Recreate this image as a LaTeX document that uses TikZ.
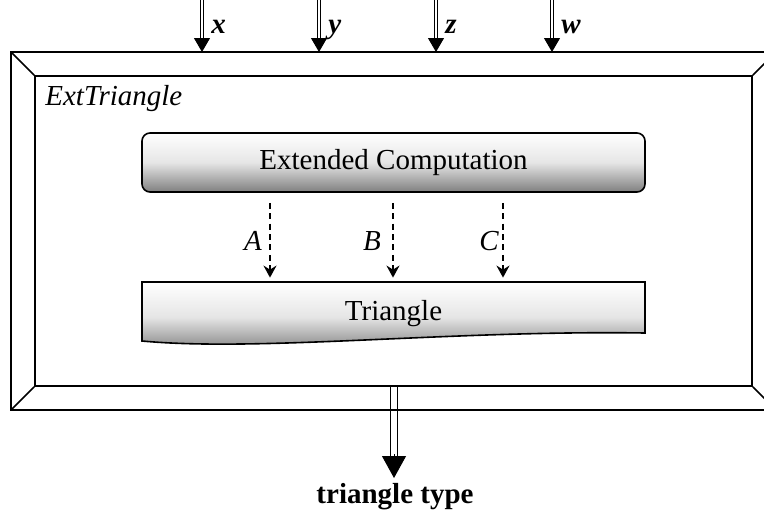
\documentclass[tikz,border=0pt]{standalone}
\usepackage{fontspec}
\setmainfont{Liberation Serif}
\usetikzlibrary{arrows.meta,calc}
\tikzset{
  frameline/.style={line width=0.85pt, line join=miter},
  lbl/.style={inner sep=0pt, font=\fontsize{14.5}{17}\selectfont},
  boxshade/.style={draw, line width=0.8pt, top color=white, bottom color=black!50, middle color=black!10},
  dasharrow/.style={line width=0.85pt, dash pattern=on 3pt off 2.2pt, -{Stealth[length=6pt,width=6.5pt,inset=2pt]}},
  shaftline/.style={line width=0.5pt},
  intip/.style={line width=0.5pt, -{Triangle[length=7pt,width=8pt]}},
  outtip/.style={line width=0.5pt, -{Triangle[length=11pt,width=12pt]}},
}
\begin{document}
\begin{tikzpicture}[x=0.5pt,y=-0.5pt]
\path[use as bounding box, clip] (0,0) rectangle (764,515);
% frame
\draw[frameline, fill=white] (11,52) rectangle (776,410);
\node[frameline, draw, fill=white, minimum width=358.5pt, minimum height=155pt, inner sep=0pt] (frame) at (393.5,231) {};
\draw[frameline] (11,52) -- (frame.north west);
\draw[frameline] (776,52) -- (frame.north east);
\draw[frameline] (11,410) -- (frame.south west);
\draw[frameline] (776,410) -- (frame.south east);
\node[lbl, anchor=base west] (title) at (45,105) {\itshape ExtTriangle};
% Extended Computation
\node[boxshade, rounded corners=4pt, minimum width=251.5pt, minimum height=29.5pt, inner sep=0pt, lbl] (ext) at (393.5,162.5) {Extended Computation};
% Triangle (document shape)
\shade[boxshade] (142,282) -- (645,282) -- (645,333) .. controls (450,330) and (260,352) .. (142,341) -- cycle;
\node[lbl, minimum width=251.5pt, minimum height=28pt] (tri) at (393.5,310) {};
\node[lbl, anchor=base] (tritext) at (393.5,320) {Triangle};
% dashed arrows
\foreach \px/\nm/\lx in {270/A/253, 393/B/372, 503/C/489}{
  \coordinate (c\nm) at (\px,0);
  \draw[dasharrow, shorten <=5pt, shorten >=2pt] (ext.south -| c\nm) -- (tri.north -| c\nm);
  \node[lbl] (l\nm) at (\lx,241) {\itshape \nm};
}
% inputs
\foreach \px/\nm in {202/x, 319/y, 436/z, 552/w}{
  \coordinate (top\nm) at (\px,0);
  \coordinate (hd\nm) at (\px,38);
  \coordinate (tip\nm) at (\px,52);
  \draw[shaftline] ([xshift=-0.85pt]top\nm) -- ([xshift=-0.85pt]hd\nm);
  \draw[shaftline] ([xshift=0.85pt]top\nm) -- ([xshift=0.85pt]hd\nm);
  \draw[intip] (hd\nm) -- (tip\nm);
  \node[lbl, anchor=base west] (in\nm) at (\px+9,33) {\bfseries\itshape \nm};
}
% output
\coordinate (outx) at (394,0);
\coordinate (outhd) at (394,456);
\coordinate (outtip) at (394,478);
\draw[shaftline] ([xshift=-1.7pt]frame.south -| outx) -- ([xshift=-1.7pt]outhd);
\draw[shaftline] ([xshift=1.7pt]frame.south -| outx) -- ([xshift=1.7pt]outhd);
\draw[outtip] ([yshift=1pt]outhd) -- (outtip);
\node[lbl] (outlbl) at (395,497) {\bfseries triangle type};
\end{tikzpicture}
\end{document}
